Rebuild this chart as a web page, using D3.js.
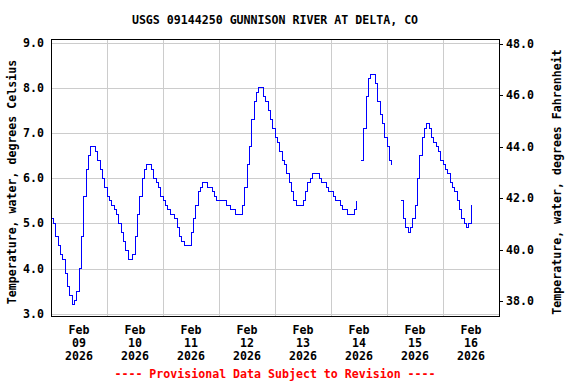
<!DOCTYPE html>
<html>
<head>
<meta charset="utf-8">
<script src="https://cdn.jsdelivr.net/npm/d3@7"></script>
<style>
    body { margin: 0; background: #fff; }
    text { font-family: "DejaVu Sans Mono", monospace; font-weight: bold; }
</style>
</head>
<body>
<svg id="chart" width="576" height="384"></svg>
<script>
// Hourly water temperature (deg C), one array per day starting at 00:00, null = no data
const feb09 = [5.1, 5.0, 4.7, 4.5, 4.3, 4.2, 3.9, 3.6, 3.4, 3.2, 3.3, 3.5, 4.0, 4.7, 5.6, 6.2, 6.5, 6.7, 6.7, 6.6, 6.4, 6.2, 6.0, 5.8];
const feb10 = [5.6, 5.5, 5.4, 5.3, 5.2, 5.0, 4.8, 4.6, 4.4, 4.2, 4.2, 4.3, 4.7, 5.2, 5.6, 6.0, 6.2, 6.3, 6.3, 6.2, 6.0, 5.9, 5.8, 5.6];
const feb11 = [5.5, 5.4, 5.3, 5.2, 5.2, 5.1, 4.9, 4.7, 4.6, 4.5, 4.5, 4.5, 4.8, 5.1, 5.4, 5.7, 5.8, 5.9, 5.9, 5.8, 5.8, 5.7, 5.6, 5.5];
const feb12 = [5.5, 5.5, 5.5, 5.4, 5.4, 5.3, 5.3, 5.2, 5.2, 5.2, 5.4, 5.8, 6.3, 6.7, 7.3, 7.7, 7.9, 8.0, 8.0, 7.8, 7.7, 7.5, 7.3, 7.1];
const feb13 = [6.9, 6.8, 6.6, 6.4, 6.3, 6.1, 5.9, 5.7, 5.5, 5.4, 5.4, 5.4, 5.5, 5.7, 5.9, 6.0, 6.1, 6.1, 6.1, 6.0, 5.9, 5.9, 5.8, 5.7];
const feb14 = [5.7, 5.6, 5.5, 5.5, 5.4, 5.3, 5.3, 5.2, 5.2, 5.2, 5.3, 5.5, null, 6.4, 7.1, 7.8, 8.2, 8.3, 8.3, 8.1, 7.7, 7.4, 7.2, 6.9];
const feb15 = [6.7, 6.4, 6.3, null, null, null, 5.5, 5.1, 4.9, 4.8, 4.9, 5.1, 5.4, 6.0, 6.5, 6.9, 7.1, 7.2, 7.1, 6.9, 6.8, 6.7, 6.6, 6.4];
const feb16 = [6.3, 6.2, 6.1, 5.9, 5.8, 5.7, 5.5, 5.3, 5.1, 5.0, 4.9, 5.0, 5.4];

const days = ["09", "10", "11", "12", "13", "14", "15", "16"];
const celsiusTicks = [3, 4, 5, 6, 7, 8, 9];
const fahrenheitTicks = [38, 40, 42, 44, 46, 48];

const title = "USGS 09144250 GUNNISON RIVER AT DELTA, CO";
const leftLabel = "Temperature, water, degrees Celsius";
const rightLabel = "Temperature, water, degrees Fahrenheit";
const footer = "---- Provisional Data Subject to Revision ----";

// Build series
const start = new Date(2026, 1, 9, 0, 0);
const hourly = [].concat(feb09, feb10, feb11, feb12, feb13, feb14, feb15, feb16);
const series = hourly.map((v, i) => ({ t: d3.timeHour.offset(start, i), v: v }));

// Layout
const svg = d3.select("#chart");
const plotLeft = 51, plotRight = 499, plotTop = 39, plotBottom = 316;

const x = d3.scaleTime()
    .domain([start, d3.timeDay.offset(start, 8)])
    .range([plotLeft, plotRight]);
const y = d3.scaleLinear().domain([2.95, 9.08]).range([plotBottom, plotTop]);
const yF = d3.scaleLinear().domain([37.43, 48.19]).range([plotBottom, plotTop]);

svg.append("rect").attr("width", 576).attr("height", 384).attr("fill", "#fff");

// Grid
const grid = svg.append("g").attr("shape-rendering", "crispEdges");
grid.selectAll(".hgrid")
    .data(celsiusTicks)
    .enter().append("line")
    .attr("x1", plotLeft).attr("x2", plotRight)
    .attr("y1", d => Math.round(y(d)) + 0.5)
    .attr("y2", d => Math.round(y(d)) + 0.5)
    .attr("stroke", "#cccccc");
grid.selectAll(".vgrid")
    .data(d3.range(1, 8).map(i => d3.timeDay.offset(start, i)))
    .enter().append("line")
    .attr("x1", d => Math.round(x(d)) + 0.5)
    .attr("x2", d => Math.round(x(d)) + 0.5)
    .attr("y1", plotTop).attr("y2", plotBottom)
    .attr("stroke", "#cccccc");

// Data line
const line = d3.line()
    .defined(d => d.v !== null)
    .x(d => x(d.t))
    .y(d => y(d.v))
    .curve(d3.curveStepAfter);

svg.append("path")
    .datum(series)
    .attr("d", line)
    .attr("fill", "none")
    .attr("stroke", "#0000ff")
    .attr("stroke-width", 1)
    .attr("shape-rendering", "crispEdges");

// Frame
svg.append("rect")
    .attr("x", plotLeft + 0.5).attr("y", plotTop + 0.5)
    .attr("width", plotRight - plotLeft).attr("height", plotBottom - plotTop)
    .attr("fill", "none")
    .attr("stroke", "#000")
    .attr("stroke-width", 1)
    .attr("shape-rendering", "crispEdges");

// Left axis labels
svg.selectAll(".ylab")
    .data(celsiusTicks)
    .enter().append("text")
    .attr("x", 44)
    .attr("y", d => y(d) + 4)
    .attr("text-anchor", "end")
    .attr("font-size", "11.6px")
    .text(d3.format(".1f"));

// Right axis ticks and labels
const rAxis = svg.append("g").attr("shape-rendering", "crispEdges");
rAxis.selectAll("line")
    .data(fahrenheitTicks)
    .enter().append("line")
    .attr("x1", plotRight).attr("x2", plotRight + 4)
    .attr("y1", d => Math.round(yF(d)) + 0.5)
    .attr("y2", d => Math.round(yF(d)) + 0.5)
    .attr("stroke", "#000");
svg.selectAll(".flab")
    .data(fahrenheitTicks)
    .enter().append("text")
    .attr("x", 506)
    .attr("y", d => yF(d) + 4)
    .attr("font-size", "11.6px")
    .text(d3.format(".1f"));

// X labels at noon of each day
const noonX = (d, i) => x(d3.timeHour.offset(start, i * 24 + 12));
const xlab = svg.selectAll(".xlab")
    .data(days)
    .enter().append("text")
    .attr("text-anchor", "middle")
    .attr("font-size", "11.6px");
xlab.append("tspan").attr("x", noonX).attr("y", 334).text("Feb");
xlab.append("tspan").attr("x", noonX).attr("y", 347).text(d => d);
xlab.append("tspan").attr("x", noonX).attr("y", 360).text("2026");

// Title, axis titles, footer
const cx = (plotLeft + plotRight) / 2;
svg.append("text")
    .attr("x", cx).attr("y", 24)
    .attr("text-anchor", "middle")
    .attr("font-size", "11.6px")
    .text(title);

svg.append("text")
    .attr("transform", "translate(16,182) rotate(-90)")
    .attr("text-anchor", "middle")
    .attr("font-size", "11.6px")
    .text(leftLabel);

svg.append("text")
    .attr("transform", "translate(561,182) rotate(-90)")
    .attr("text-anchor", "middle")
    .attr("font-size", "11.6px")
    .text(rightLabel);

svg.append("text")
    .attr("x", cx).attr("y", 378)
    .attr("text-anchor", "middle")
    .attr("font-size", "11.6px")
    .attr("fill", "#ff0000")
    .text(footer);
</script>
</body>
</html>
